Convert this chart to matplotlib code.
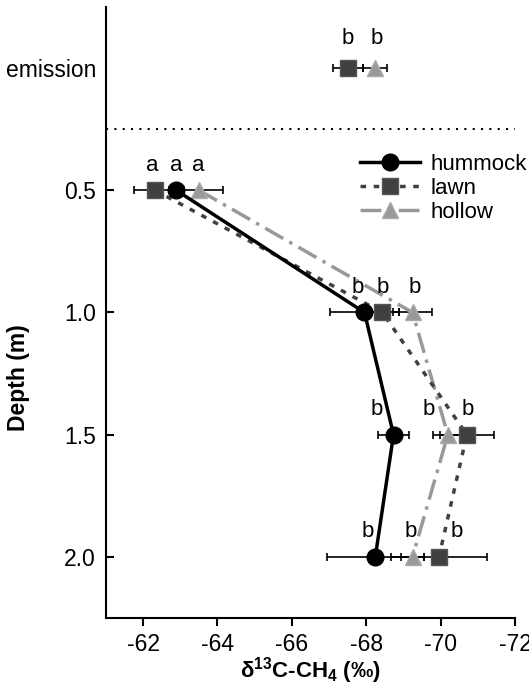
import numpy as np
import matplotlib
matplotlib.use('Agg')
import matplotlib.pyplot as plt

plt.rcParams['font.family'] = ['Liberation Sans', 'DejaVu Sans']
plt.rcParams['mathtext.fontset'] = 'custom'
plt.rcParams['mathtext.rm'] = 'Liberation Sans'
plt.rcParams['mathtext.bf'] = 'Liberation Sans:bold'
plt.rcParams['axes.unicode_minus'] = False

# depth of each sample; emission is drawn at depth 0 above the dotted line
depth = [0.5, 1.0, 1.5, 2.0]
ytick_pos = [0.0, 0.5, 1.0, 1.5, 2.0]
ytick_lab = ['emission', '0.5', '1.0', '1.5', '2.0']

hummock = [-62.89, -67.95, -68.73, -68.24]
hummock_err = [0.2, 0.92, 0.42, 1.3]
hummock_let = ['a', 'b', 'b', 'b']

lawn = [-62.32, -68.43, -70.70, -69.95]
lawn_err = [0.55, 0.45, 0.73, 1.3]
lawn_let = ['a', 'b', 'b', 'b']

hollow = [-63.50, -69.24, -70.19, -69.24]
hollow_err = [0.65, 0.52, 0.40, 0.3]
hollow_let = ['a', 'b', 'b', 'b']

emis_lawn, emis_lawn_err = -67.51, 0.4
emis_hollow, emis_hollow_err = -68.24, 0.32
emis_let = ['b', 'b']

fig = plt.figure(figsize=(5.29, 6.89), dpi=100)
ax = fig.add_axes([0.2, 0.103, 0.774, 0.887])

ebkw = dict(ecolor='black', elinewidth=1.2, capsize=3, capthick=1.2)

ax.errorbar(hollow, depth, xerr=hollow_err, fmt='none', zorder=2, **ebkw)
ax.errorbar(lawn, depth, xerr=lawn_err, fmt='none', zorder=2, **ebkw)
ax.errorbar(hummock, depth, xerr=hummock_err, fmt='none', zorder=2, **ebkw)
ax.errorbar([emis_lawn, emis_hollow], [0, 0], xerr=[emis_lawn_err, emis_hollow_err],
            fmt='none', zorder=2, **ebkw)

ax.plot(hollow, depth, color='#999999', lw=2.5, ls=(0, (6, 2, 1, 2)),
        marker='^', ms=12, mfc='#999999', mec='#aaaaaa', label='hollow', zorder=3)
ax.plot(lawn, depth, color='#404040', lw=2.5, ls=(0, (1.6, 2.2)),
        marker='s', ms=11, mfc='#404040', mec='#555555', label='lawn', zorder=4)
ax.plot(hummock, depth, color='black', lw=2.5, ls='-',
        marker='o', ms=12, mfc='black', mec='black', label='hummock', zorder=5)
ax.plot([emis_lawn], [0], ls='none', marker='s', ms=11, mfc='#404040', mec='#555555', zorder=4)
ax.plot([emis_hollow], [0], ls='none', marker='^', ms=12, mfc='#999999', mec='#aaaaaa', zorder=3)

ax.axhline(0.25, color='black', ls=(0, (1, 3)), lw=1.5)

# significance letters (pixel offsets from each marker)
tk = dict(textcoords='offset pixels', ha='center', va='center', fontsize=16)
hum_dx = [0, -7, -17, -8]
lawn_dx = [-3, 0, 1, 18]
hol_dx = [-1, 2, -19, -2]
for i in range(4):
    ax.annotate(hummock_let[i], (hummock[i], depth[i]), xytext=(hum_dx[i], 25), **tk)
    ax.annotate(lawn_let[i], (lawn[i], depth[i]), xytext=(lawn_dx[i], 25), **tk)
    ax.annotate(hollow_let[i], (hollow[i], depth[i]), xytext=(hol_dx[i], 25), **tk)
ax.annotate(emis_let[0], (emis_lawn, 0), xytext=(0, 30), **tk)
ax.annotate(emis_let[1], (emis_hollow, 0), xytext=(1, 30), **tk)

ax.set_xlim(-61, -72)
ax.set_ylim(2.25, -0.25)
ax.set_xticks([-62, -64, -66, -68, -70, -72])
ax.set_yticks(ytick_pos)
ax.set_yticklabels(ytick_lab)
ax.yaxis.get_major_ticks()[0].tick1line.set_visible(False)

for s in ['top', 'right']:
    ax.spines[s].set_visible(False)
for s in ['left', 'bottom']:
    ax.spines[s].set_linewidth(1.5)
ax.tick_params(axis='y', direction='in', length=6, width=1.5, labelsize=16.5, pad=7)
ax.tick_params(axis='x', direction='out', length=6, width=1.5, labelsize=16.5, pad=5)

ax.set_ylabel('Depth (m)', fontsize=16.5, fontweight='bold')
ax.yaxis.set_label_coords(-0.186, 0.394)
ax.set_xlabel('δ$^{\\mathbf{13}}$C-CH$_{\\mathbf{4}}$ (‰)', fontsize=16, fontweight='bold', labelpad=-1)

h, l = ax.get_legend_handles_labels()
ax.legend(h[::-1], l[::-1], loc='upper left', bbox_to_anchor=(0.62, 0.76), frameon=False,
          fontsize=16, handlelength=2.7, handletextpad=0.5, labelspacing=0.15,
          borderpad=0, borderaxespad=0)

fig.savefig('out.png', dpi=100)
